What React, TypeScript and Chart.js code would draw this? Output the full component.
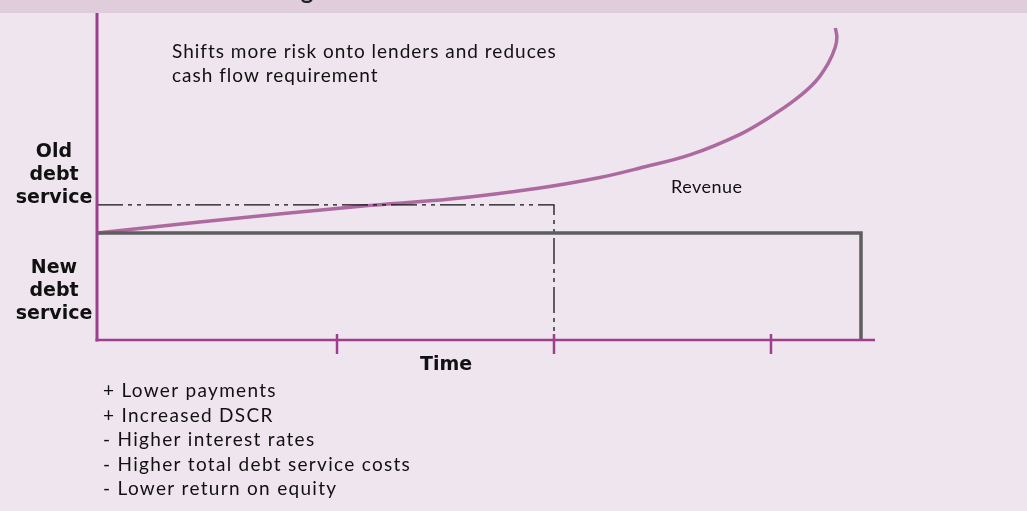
import React, { useEffect, useRef } from "react";
import { Chart, registerables } from "chart.js";

Chart.register(...registerables);

// ---- Data (abstract units: time 0..100, amount 0..100) ----
const timeTicks = [30.85, 58.74, 86.63];
const revenueX = [0, 13.2, 34.2, 45.4, 56.9, 64.65, 69.8, 76.2, 82.65, 86.5, 89.7, 92.3, 94.0, 94.9, 95.1, 94.9];
const revenueY = [32.7, 36.1, 41.0, 43.1, 46.5, 49.7, 52.6, 56.6, 62.9, 68.2, 73.4, 78.9, 84.7, 89.6, 92.7, 95.4];
const oldServiceX = [0, 58.74, 58.74];
const oldServiceY = [41.3, 41.3, 0];
const newServiceX = [0, 98.2, 98.2];
const newServiceY = [32.7, 32.7, 0];

const titleText = "Alternative 2: Extending the debt tenor";
const noteLines = ["Shifts more risk onto lenders and reduces", "cash flow requirement"];
const oldLabel = ["Old", "debt", "service"];
const newLabel = ["New", "debt", "service"];
const xAxisLabel = "Time";
const revenueLabel = "Revenue";
const bulletLines = [
  "+ Lower payments",
  "+ Increased DSCR",
  "- Higher interest rates",
  "- Higher total debt service costs",
  "- Lower return on equity",
];

const BG = "#efe5ee";
const HEADER = "#dfcddc";
const AXIS = "#9e3f8e";
const REVENUE = "#ad6aa0";
const NEWDEBT = "#5e5e5e";
const TEXT = "#111111";
const REG_FONT = "Lato";
const BOLD_FONT = "'DejaVu Sans'";

const pts = (xs: number[], ys: number[]) => xs.map((x, i) => ({ x, y: ys[i] }));

export default function App() {
  const ref = useRef<HTMLCanvasElement | null>(null);

  useEffect(() => {
    const canvas = ref.current;
    if (!canvas) return;

    const decor = {
      id: "decor",
      beforeDraw(chart: any) {
        const { ctx, width, height } = chart;
        ctx.save();
        ctx.fillStyle = BG;
        ctx.fillRect(0, 0, width, height);
        ctx.fillStyle = HEADER;
        ctx.fillRect(0, 0, width, 13);
        ctx.beginPath();
        ctx.rect(0, 0, width, 13);
        ctx.clip();
        ctx.fillStyle = "#222";
        ctx.font = `bold 24px ${REG_FONT}`;
        ctx.textBaseline = "alphabetic";
        ctx.fillText(titleText, 55, -1);
        ctx.restore();
      },
      afterDatasetsDraw(chart: any) {
        const { ctx, chartArea } = chart;
        const xs = chart.scales.x;
        const ys = chart.scales.y;
        const x0 = xs.getPixelForValue(0);
        const x1 = xs.getPixelForValue(100);
        const y0 = ys.getPixelForValue(0);
        ctx.save();
        ctx.strokeStyle = AXIS;
        ctx.lineCap = "butt";
        ctx.lineWidth = 3;
        ctx.beginPath();
        ctx.moveTo(x0, chartArea.top);
        ctx.lineTo(x0, y0 + 1.5);
        ctx.stroke();
        ctx.lineWidth = 2.5;
        ctx.beginPath();
        ctx.moveTo(x0 - 1.5, y0);
        ctx.lineTo(x1, y0);
        ctx.stroke();
        timeTicks.forEach((t) => {
          const px = xs.getPixelForValue(t);
          ctx.beginPath();
          ctx.moveTo(px, y0 - 6);
          ctx.lineTo(px, y0 + 14);
          ctx.stroke();
        });
        ctx.restore();
      },
      afterDraw(chart: any) {
        const { ctx } = chart;
        ctx.save();
        ctx.fillStyle = TEXT;
        ctx.textBaseline = "alphabetic";
        ctx.textAlign = "left";
        ctx.font = `19px ${REG_FONT}`;
        ctx.letterSpacing = "1px";
        noteLines.forEach((l, i) => ctx.fillText(l, 172, 58 + i * 24));
        ctx.letterSpacing = "1.3px";
        bulletLines.forEach((l, i) => ctx.fillText(l, 103, 397 + i * 24.6));
        ctx.font = `18px ${REG_FONT}`;
        ctx.letterSpacing = "0.5px";
        ctx.fillText(revenueLabel, 671, 193);
        ctx.letterSpacing = "0px";
        ctx.font = `bold 19px ${BOLD_FONT}`;
        ctx.textAlign = "center";
        oldLabel.forEach((l, i) => ctx.fillText(l, 54, 157 + i * 23));
        newLabel.forEach((l, i) => ctx.fillText(l, 54, 273 + i * 23));
        ctx.fillText(xAxisLabel, 446, 370);
        ctx.restore();
      },
    };

    const chart = new Chart(canvas, {
      type: "scatter",
      data: {
        datasets: [
          {
            label: "New debt service",
            data: pts(newServiceX, newServiceY),
            showLine: true,
            borderColor: NEWDEBT,
            borderWidth: 3.5,
            pointRadius: 0,
            tension: 0,
            borderJoinStyle: "miter",
          } as any,
          {
            label: "Old debt service",
            data: pts(oldServiceX, oldServiceY),
            showLine: true,
            borderColor: "#111",
            borderWidth: 1.3,
            borderDash: [26, 5, 4, 5, 4, 5],
            pointRadius: 0,
            tension: 0,
          } as any,
          {
            label: "Revenue",
            data: pts(revenueX, revenueY),
            showLine: true,
            borderColor: REVENUE,
            borderWidth: 3.5,
            pointRadius: 0,
            tension: 0.35,
            borderCapStyle: "butt",
          } as any,
        ],
      },
      options: {
        animation: false,
        responsive: false,
        devicePixelRatio: 1,
        layout: { padding: { left: 97, right: 152, top: 13, bottom: 171 } },
        plugins: { legend: { display: false }, tooltip: { enabled: false }, title: { display: false } },
        scales: {
          x: { type: "linear", min: 0, max: 100, display: false },
          y: { type: "linear", min: 0, max: 100, display: false },
        },
        events: [],
      },
      plugins: [decor],
    });
    return () => chart.destroy();
  }, []);

  return (
    <div style={{ position: "absolute", left: 0, top: 0, width: 1027, height: 511 }}>
      <canvas ref={ref} width={1027} height={511} style={{ display: "block", width: 1027, height: 511 }} />
    </div>
  );
}
